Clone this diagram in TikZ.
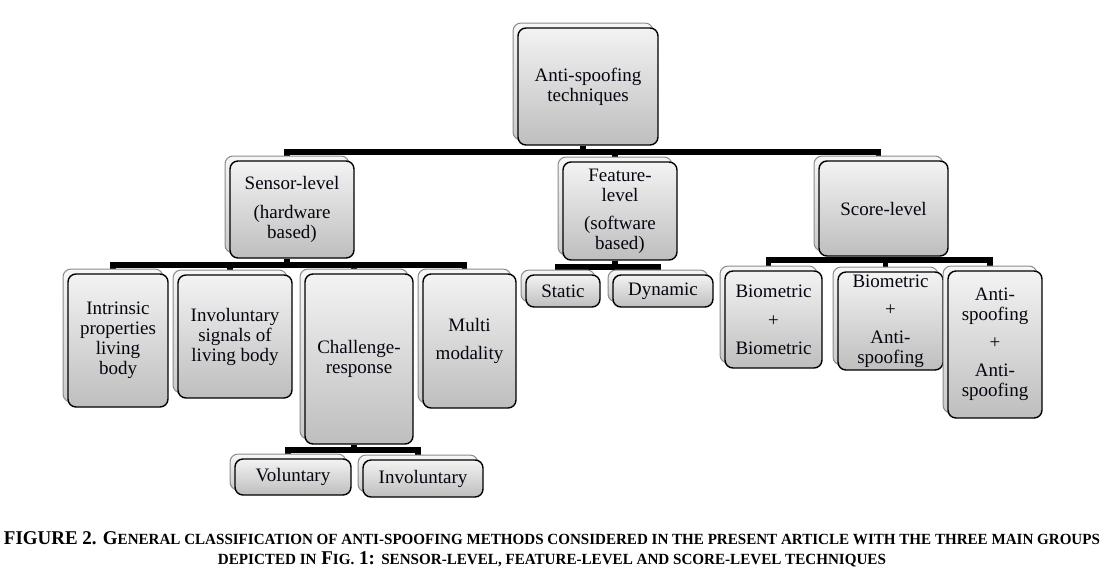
\documentclass[tikz,border=0pt]{standalone}
\usepackage{fontspec}
\setmainfont{Liberation Serif}
\usepackage{graphicx}
\usetikzlibrary{backgrounds}
\definecolor{ftop}{HTML}{F3F3F3}
\definecolor{fbot}{HTML}{BEBEBE}
\definecolor{btop}{HTML}{F7F7F7}
\definecolor{bbot}{HTML}{CACACA}
\definecolor{bline}{HTML}{8A8A8A}
\definecolor{txt}{HTML}{05050F}
\newcommand\boxfont{\fontsize{19}{20}\selectfont}
\newcommand\capsmall[1]{{\fontsize{15.5}{20}\selectfont #1}}
\tikzset{
  frontbox/.style={draw=black, line width=1.4pt, rounded corners=8pt,
    top color=ftop, bottom color=fbot, align=center, font=\boxfont,
    text=txt, inner sep=2pt},
  backbox/.style={draw=bline, line width=1pt, rounded corners=8pt,
    top color=btop, bottom color=bbot},
  conn/.style={line width=5.5pt, black, line join=miter}
}
\newcommand\bx[6]{%
  \draw[backbox] ({#2-5},{#3-5}) rectangle ({#4-5},{#5-5});
  \node[frontbox, minimum width={(#4-#2)*1pt}, minimum height={(#5-#3)*1pt}]
    (#1) at ({(#2+#4)/2},{(#3+#5)/2}) {#6};
}
\begin{document}
\begin{tikzpicture}[x=1pt,y=-1pt]
\useasboundingbox (0,0) rectangle (1108,574);
\bx{root}{518}{28}{658}{145}{Anti-spoofing\\techniques}
\bx{sensor}{230}{161}{354}{258}{Sensor-level\\[9pt](hardware\\based)}
\bx{feature}{563}{162}{677}{260}{Feature-\\level\\[8pt](software\\based)}
\bx{score}{819}{161}{948}{256}{Score-level}
\bx{intr}{68}{274}{168}{407}{Intrinsic\\properties\\living\\body}
\bx{invs}{178}{275}{292}{398}{Involuntary\\signals of\\living body}
\bx{chal}{305}{274}{413}{444}{Challenge-\\response}
\bx{multi}{423}{274}{516}{408}{Multi\\[8pt]modality}
\bx{vol}{235}{459}{351}{495}{Voluntary}
\bx{invol}{363}{460}{483}{497}{Involuntary}
\bx{static}{526}{275}{600}{307}{Static}
\bx{dyn}{613}{275}{713}{307}{Dynamic}
\bx{bb}{725}{271}{822}{368}{Biometric\\[9pt]+\\[8pt]Biometric}
\bx{ba}{838}{272}{943}{370}{Biometric\\[8pt]+\\[8pt]Anti-\\spoofing}
\bx{aa}{948}{271}{1042}{418}{Anti-\\spoofing\\[8pt]+\\[8pt]Anti-\\spoofing}
\coordinate (b0) at (0,152);
\coordinate (b1) at (0,265);
\coordinate (b2) at (0,267);
\coordinate (b3) at (0,260);
\coordinate (b4) at (0,450);
\begin{scope}[on background layer]
  % level 1
  \draw[conn] ([xshift=-5pt]root.south) -- ([xshift=-5pt]root.south |- b0);
  \draw[conn] ([xshift=-5pt]sensor.north) |- ([xshift=-5pt]score.north |- b0) -- ([xshift=-5pt]score.north);
  \draw[conn] ([xshift=-5pt]feature.north) -- ([xshift=-5pt]feature.north |- b0);
  % sensor children
  \draw[conn] ([xshift=-5pt]sensor.south) -- ([xshift=-5pt]sensor.south |- b1);
  \draw[conn] ([xshift=-5pt]intr.north) |- ([xshift=-5pt]multi.north |- b1) -- ([xshift=-5pt]multi.north);
  \draw[conn] ([xshift=-5pt]invs.north) -- ([xshift=-5pt]invs.north |- b1);
  \draw[conn] ([xshift=-5pt]chal.north) -- ([xshift=-5pt]chal.north |- b1);
  % feature children
  \draw[conn] ([xshift=-5pt]feature.south) -- ([xshift=-5pt]feature.south |- b2);
  \draw[conn] ([xshift=-5pt]static.north) |- ([xshift=-5pt]dyn.north |- b2) -- ([xshift=-5pt]dyn.north);
  % score children
  \draw[conn] ([xshift=-5pt]score.south) -- ([xshift=-5pt]score.south |- b3);
  \draw[conn] ([xshift=-5pt]bb.north) |- ([xshift=-5pt]aa.north |- b3) -- ([xshift=-5pt]aa.north);
  \draw[conn] ([xshift=-5pt]ba.north) -- ([xshift=-5pt]ba.north |- b3);
  % challenge children
  \draw[conn] ([xshift=-5pt]chal.south) -- ([xshift=-5pt]chal.south |- b4);
  \draw[conn] ([xshift=-5pt]vol.north) |- ([xshift=-5pt]invol.north |- b4) -- ([xshift=-5pt]invol.north);
\end{scope}
\node[font=\bfseries\fontsize{19.5}{20}\selectfont, align=center, anchor=north, inner sep=0pt, text=black] (caption) at (552,531)
  {\resizebox{1096pt}{\height}{FIGURE 2. G\capsmall{ENERAL CLASSIFICATION OF ANTI-SPOOFING METHODS CONSIDERED IN THE PRESENT ARTICLE WITH THE THREE MAIN GROUPS}}\\
   \resizebox{668pt}{\height}{\capsmall{DEPICTED IN} F\capsmall{IG.} 1: \capsmall{SENSOR-LEVEL, FEATURE-LEVEL AND SCORE-LEVEL TECHNIQUES}}};
\end{tikzpicture}
\end{document}
